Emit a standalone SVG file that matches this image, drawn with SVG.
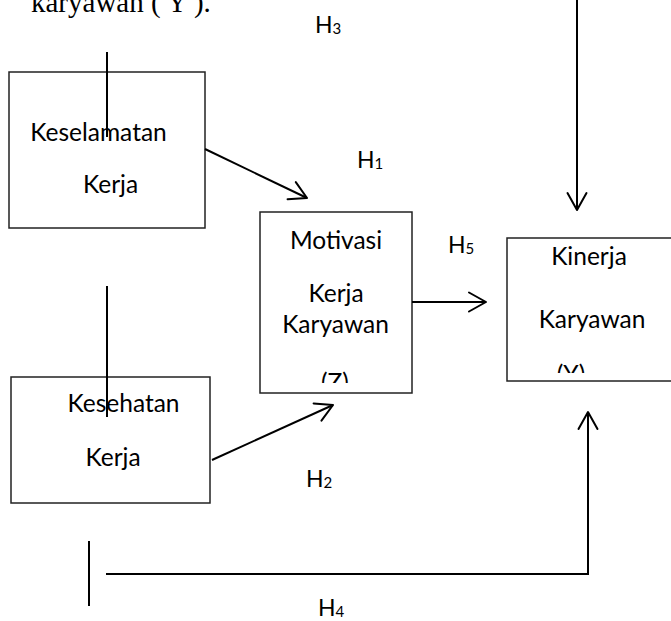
<svg xmlns="http://www.w3.org/2000/svg" width="671" height="621" viewBox="0 0 671 621">
<style>
.box{fill:#fff;stroke:#222;stroke-width:1.5}
.lbl{font-family:Lato,"Liberation Sans",sans-serif;font-size:24.5px;fill:#000;text-anchor:middle}
.h{font-family:Lato,"Liberation Sans",sans-serif;font-size:23px;fill:#000}
.sub{font-size:15px}
.con{fill:none;stroke:#000;stroke-width:2}
.arr{marker-end:url(#ah)}
</style>
<defs>
<marker id="ah" viewBox="-19 -11 21 22" refX="0" refY="0" markerWidth="21" markerHeight="22" markerUnits="userSpaceOnUse" orient="auto">
<path d="M-17,-9.5 L0,0 L-17,9.5" fill="none" stroke="#000" stroke-width="2" stroke-linejoin="round" stroke-linecap="round"/>
</marker>
<clipPath id="clipZ"><rect x="260" y="212" width="152" height="171"/></clipPath>
<clipPath id="clipY"><rect x="507" y="238" width="170" height="135"/></clipPath>
</defs>
<rect width="671" height="621" fill="#fff"/>
<text x="31" y="12" font-family="'Liberation Serif',serif" font-size="29" fill="#000">karyawan ( Y ).</text>

<g id="node-keselamatan">
<rect class="box" x="9" y="72" width="196" height="156"/>
<text class="lbl" x="98.5" y="141">Keselamatan</text>
<text class="lbl" x="110.5" y="193">Kerja</text>
</g>
<g id="node-kesehatan">
<rect class="box" x="11" y="377" width="199" height="126"/>
<text class="lbl" x="123.5" y="412">Kesehatan</text>
<text class="lbl" x="113" y="466">Kerja</text>
</g>
<g id="node-motivasi">
<rect class="box" x="260" y="212" width="152" height="181"/>
<text class="lbl" x="336" y="249">Motivasi</text>
<text class="lbl" x="336" y="302">Kerja</text>
<text class="lbl" x="335.5" y="333">Karyawan</text>
<text class="lbl" x="335" y="391" clip-path="url(#clipZ)">(Z)</text>
</g>
<g id="node-kinerja">
<rect class="box" x="507" y="238" width="175" height="143"/>
<text class="lbl" x="589" y="265">Kinerja</text>
<text class="lbl" x="592" y="328">Karyawan</text>
<text class="lbl" x="571" y="383" clip-path="url(#clipY)">(Y)</text>
</g>

<g id="connectors">
<line class="con" x1="107" y1="52" x2="107" y2="137"/>
<line class="con" x1="107" y1="286" x2="107" y2="417"/>
<line class="con" x1="89" y1="541" x2="89" y2="606"/>
<polyline class="con arr" points="106,574 588,574 588,412"/>
<line class="con arr" x1="577" y1="0" x2="577" y2="210"/>
<line class="con arr" x1="205" y1="149" x2="307" y2="198"/>
<line class="con arr" x1="212" y1="460" x2="333" y2="405"/>
<line class="con arr" x1="412" y1="302" x2="486" y2="302"/>
</g>

<g id="labels">
<text class="h" x="315" y="33">H<tspan class="sub" dy="1">3</tspan></text>
<text class="h" x="357" y="168">H<tspan class="sub" dy="1">1</tspan></text>
<text class="h" x="448" y="253">H<tspan class="sub" dy="1">5</tspan></text>
<text class="h" x="306" y="487">H<tspan class="sub" dy="1">2</tspan></text>
<text class="h" x="318" y="616">H<tspan class="sub" dy="1">4</tspan></text>
</g>
</svg>
